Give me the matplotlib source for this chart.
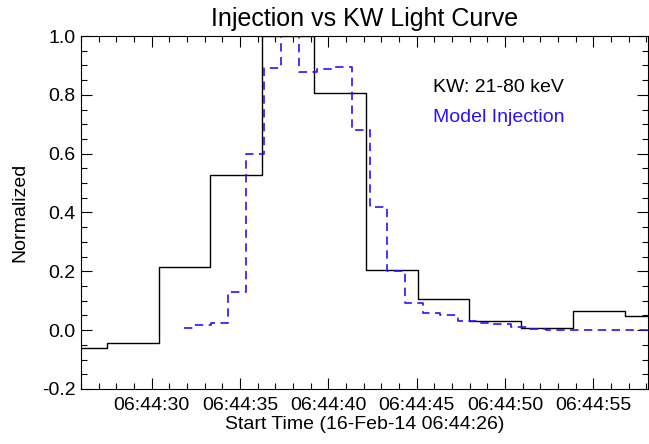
import matplotlib.pyplot as plt
from matplotlib.ticker import FixedLocator, MultipleLocator
import numpy as np

plt.rcParams['font.family'] = ['Liberation Sans', 'DejaVu Sans']

# KW light curve, seconds after 06:44:26 (bin centres) and normalized counts
kw_t = [-0.02, 2.92, 5.85, 8.78, 11.72, 14.65, 17.58, 20.52, 23.45, 26.38, 29.32, 32.25]
kw_val = [-0.061, -0.042, 0.216, 0.529, 1.0, 0.806, 0.205, 0.106, 0.032, 0.006, 0.066, 0.047]

# model injection profile, 1 s bins
inj_t = [5.84, 6.84, 7.84, 8.84, 9.84, 10.84, 11.84, 12.84, 13.84, 14.84,
         15.84, 16.84, 17.84, 18.84, 19.84, 20.84, 21.84, 22.84, 23.84, 24.84,
         25.84, 26.84, 27.84, 28.84, 29.84, 30.84, 31.84, 32.84]
inj_val = [0.007, 0.018, 0.025, 0.131, 0.60, 0.89, 1.0, 0.877, 0.888, 0.895,
           0.682, 0.417, 0.20, 0.094, 0.06, 0.052, 0.032, 0.026, 0.02, 0.011,
           0.005, 0.002, 0.001, 0.0, 0.0, 0.0, 0.0, 0.0]

tick_t = [4, 9, 14, 19, 24, 29]
tick_labels = ['06:44:30', '06:44:35', '06:44:40', '06:44:45', '06:44:50', '06:44:55']

fig = plt.figure(figsize=(6.49, 4.44), dpi=100)
ax = fig.add_axes([0.1249, 0.1239, 0.8736, 0.795])

ax.step(kw_t, kw_val, where='mid', color='black', lw=1.0)
blue = '#2a10ff'
ln, = ax.step(inj_t, inj_val, where='mid', color=blue, lw=1.2)
ln.set_dashes((5, 3.3))

ax.set_xlim(0, 32.1)
ax.set_ylim(-0.2, 1.0)

ax.xaxis.set_major_locator(FixedLocator(tick_t))
ax.set_xticklabels(tick_labels)
ax.xaxis.set_minor_locator(MultipleLocator(1))
ax.yaxis.set_major_locator(MultipleLocator(0.2))
ax.yaxis.set_minor_locator(MultipleLocator(0.05))
ax.yaxis.set_major_formatter(plt.FuncFormatter(lambda v, p: f'{v:.1f}'))

ax.tick_params(which='both', direction='in', top=True, right=True, width=0.8, labelsize=14)
ax.tick_params(which='major', length=8)
ax.tick_params(which='minor', length=4)
ax.tick_params(axis='x', pad=6)
ax.tick_params(axis='y', pad=4)
for s in ax.spines.values():
    s.set_linewidth(0.8)

ax.set_title('Injection vs KW Light Curve', fontsize=18, pad=7)
ax.set_xlabel('Start Time (16-Feb-14 06:44:26)', fontsize=14, labelpad=1)
ax.set_ylabel('Normalized', fontsize=14, labelpad=10)

ax.text(0.62, 0.853, 'KW: 21-80 keV', transform=ax.transAxes, fontsize=14,
        va='center', color='black')
ax.text(0.62, 0.768, 'Model Injection', transform=ax.transAxes, fontsize=14,
        va='center', color=blue)

fig.savefig('out.png', dpi=100)
